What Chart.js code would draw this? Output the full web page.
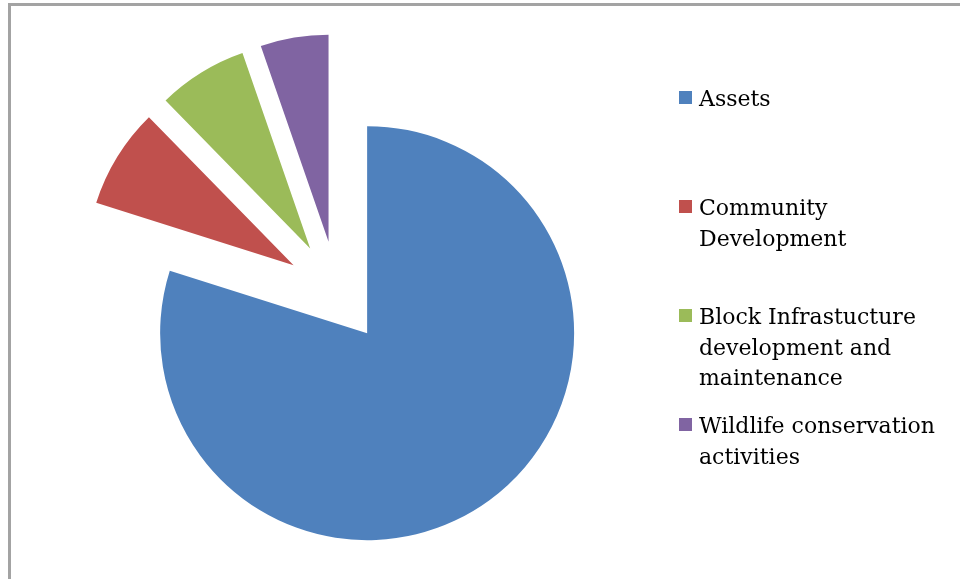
<!DOCTYPE html>
<html>
<head>
<meta charset="utf-8">
<script src="https://cdn.jsdelivr.net/npm/chart.js@4.4.1/dist/chart.umd.min.js"></script>
<style>
  body { margin: 0; background: #fff; }
  #wrap { position: relative; width: 960px; height: 579px; }
  #frame { position: absolute; left: 8px; top: 3px; right: 0; bottom: 0;
           border-top: 3px solid #a3a3a3; border-left: 3px solid #a3a3a3; }
  canvas { position: absolute; left: 0; top: 0; }
</style>
</head>
<body>
<div id="wrap">
  <div id="frame"></div>
  <canvas id="myPieChart" width="960" height="579"></canvas>
</div>
<script>
var categories = [
  ["Assets"],
  ["Community", "Development"],
  ["Block Infrastucture", "development and", "maintenance"],
  ["Wildlife conservation", "activities"]
];
var values = [79.8, 7.8, 7.0, 5.3];
var colors = ["#4f81bd", "#c0504d", "#9bbb59", "#8064a2"];

// every slice is pulled out from the centre by the same distance
var explodePlugin = {
  id: "explode",
  afterDatasetsUpdate: function (chart, args, opts) {
    var arcs = chart.getDatasetMeta(0).data;
    arcs.forEach(function (arc) {
      var mid = (arc.startAngle + arc.endAngle) / 2;
      arc.x += Math.cos(mid) * opts.distance;
      arc.y += Math.sin(mid) * opts.distance;
    });
  }
};

var legendPlugin = {
  id: "sideLegend",
  afterDraw: function (chart, args, opts) {
    var ctx = chart.ctx;
    var labels = chart.data.labels;
    var bg = chart.data.datasets[0].backgroundColor;
    ctx.save();
    ctx.font = opts.size + "px 'DejaVu Serif'";
    ctx.textBaseline = "alphabetic";
    ctx.fillStyle = "#000";
    for (var i = 0; i < labels.length; i++) {
      var base = opts.top + i * opts.step;
      ctx.fillStyle = bg[i];
      ctx.fillRect(opts.left, base - 15, 13, 13);
      ctx.fillStyle = "#000";
      for (var j = 0; j < labels[i].length; j++) {
        ctx.fillText(labels[i][j], opts.left + 20, base + j * opts.lineHeight);
      }
    }
    ctx.restore();
  }
};

var ctx = document.getElementById("myPieChart").getContext("2d");
var myPieChart = new Chart(ctx, {
  type: "pie",
  data: {
    labels: categories,
    datasets: [{
      data: values,
      backgroundColor: colors,
      borderWidth: 0,
      clip: false
    }]
  },
  options: {
    responsive: false,
    devicePixelRatio: 1,
    animation: false,
    radius: 207,
    layout: { padding: { left: 20, right: 306, top: 25, bottom: 20 } },
    plugins: {
      legend: { display: false },
      tooltip: { enabled: false },
      explode: { distance: 51 },
      sideLegend: { left: 679, top: 106, step: 109, lineHeight: 30.5, size: 22 }
    }
  },
  plugins: [explodePlugin, legendPlugin]
});
</script>
</body>
</html>
